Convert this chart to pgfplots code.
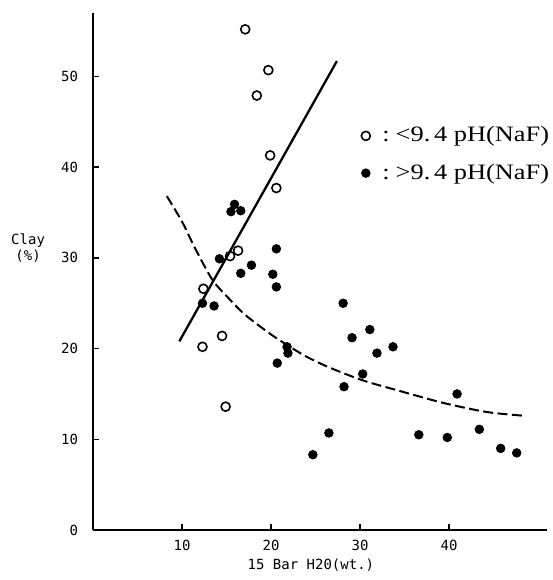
\documentclass[border=0pt]{standalone}
\usepackage{fontspec}
\setmainfont{Liberation Serif}
\setmonofont{DejaVu Sans Mono}
\newfontfamily\legfont[FakeStretch=1.2]{Liberation Serif}
\usepackage{pgfplots}
\pgfplotsset{compat=1.18}

\pgfplotstableread{
x y
17.1 55.2
19.7 50.7
18.4 47.9
19.9 41.3
20.6 37.7
16.3 30.8
15.4 30.2
12.4 26.6
12.3 20.2
14.5 21.4
14.9 13.6
}\lowph

\pgfplotstableread{
x y
15.9 35.9
15.5 35.1
16.6 35.2
14.2 29.9
17.8 29.2
16.6 28.3
20.6 31.0
20.2 28.2
20.6 26.8
12.3 25.0
13.6 24.7
20.7 18.4
21.8 20.2
21.9 19.5
28.1 25.0
31.1 22.1
29.1 21.2
31.9 19.5
33.7 20.2
30.3 17.2
28.2 15.8
40.9 15.0
26.5 10.7
24.7 8.3
36.6 10.5
39.8 10.2
43.4 11.1
45.8 9.0
47.6 8.5
}\highph

\begin{document}
\begin{tikzpicture}
\begin{axis}[
name=ax,
scale only axis,
width=227pt, height=258.5pt,
xmin=0, xmax=51, ymin=0, ymax=57,
axis x line=bottom, axis y line=left,
axis line style={-, line width=1pt},
xtick={10,20,30,40}, ytick={0,10,20,30,40,50},
tick align=inside, major tick length=3pt,
tick style={line width=0.7pt, black},
/pgf/number format/assume math mode=true,
ticklabel style={font=\ttfamily\fontsize{7}{8}\selectfont},
xticklabel style={yshift=-1.5pt},
yticklabel style={xshift=-4pt},
xlabel={15 Bar H20(wt.)},
xlabel style={font=\ttfamily\fontsize{7}{8}\selectfont, at={(axis description cs:0.48,0)}, anchor=center, yshift=-17.5pt},
ylabel={Clay\\(\%)},
ylabel style={font=\ttfamily\fontsize{7}{8}\selectfont, rotate=-90, align=center, at={(axis description cs:-0.143,0.545)}, anchor=center},
legend style={draw=none, fill=none, at={(axis cs:30.1,41.4)}, anchor=west,
  font=\legfont\fontsize{11}{12}\selectfont, row sep=5.5pt, inner sep=0pt},
legend cell align=left,
]
\addplot[forget plot, line width=1.15pt] coordinates {(9.7,20.8) (27.4,51.7)};
\addplot[forget plot, line width=1pt, dash pattern=on 5pt off 2.2pt, smooth] coordinates {
(8.3,36.8) (10,34.0) (11.5,31.0) (13.4,27.6) (15,25.8) (17,23.8) (19.8,21.7)
(21.8,20.4) (24,19.1) (26.6,17.9) (30.3,16.5) (34.2,15.4) (39.4,14.0) (44.3,13.0) (48.4,12.6)};
\addplot[only marks, mark=o, mark size=2.25pt, mark options={line width=0.8pt, black}] table {\lowph};
\addlegendentry{\hspace*{4pt}:\hspace*{3pt}<9.\,4 pH(NaF)}
\addplot[only marks, mark=*, mark size=2.15pt, mark options={black, fill=black}] table {\highph};
\addlegendentry{\hspace*{4pt}:\hspace*{3pt}>9.\,4 pH(NaF)}
\end{axis}
\pgfresetboundingbox
\path ([shift={(-46.5pt,-25pt)}]ax.south west) rectangle ([shift={(3pt,6.5pt)}]ax.north east);
\end{tikzpicture}
\end{document}
